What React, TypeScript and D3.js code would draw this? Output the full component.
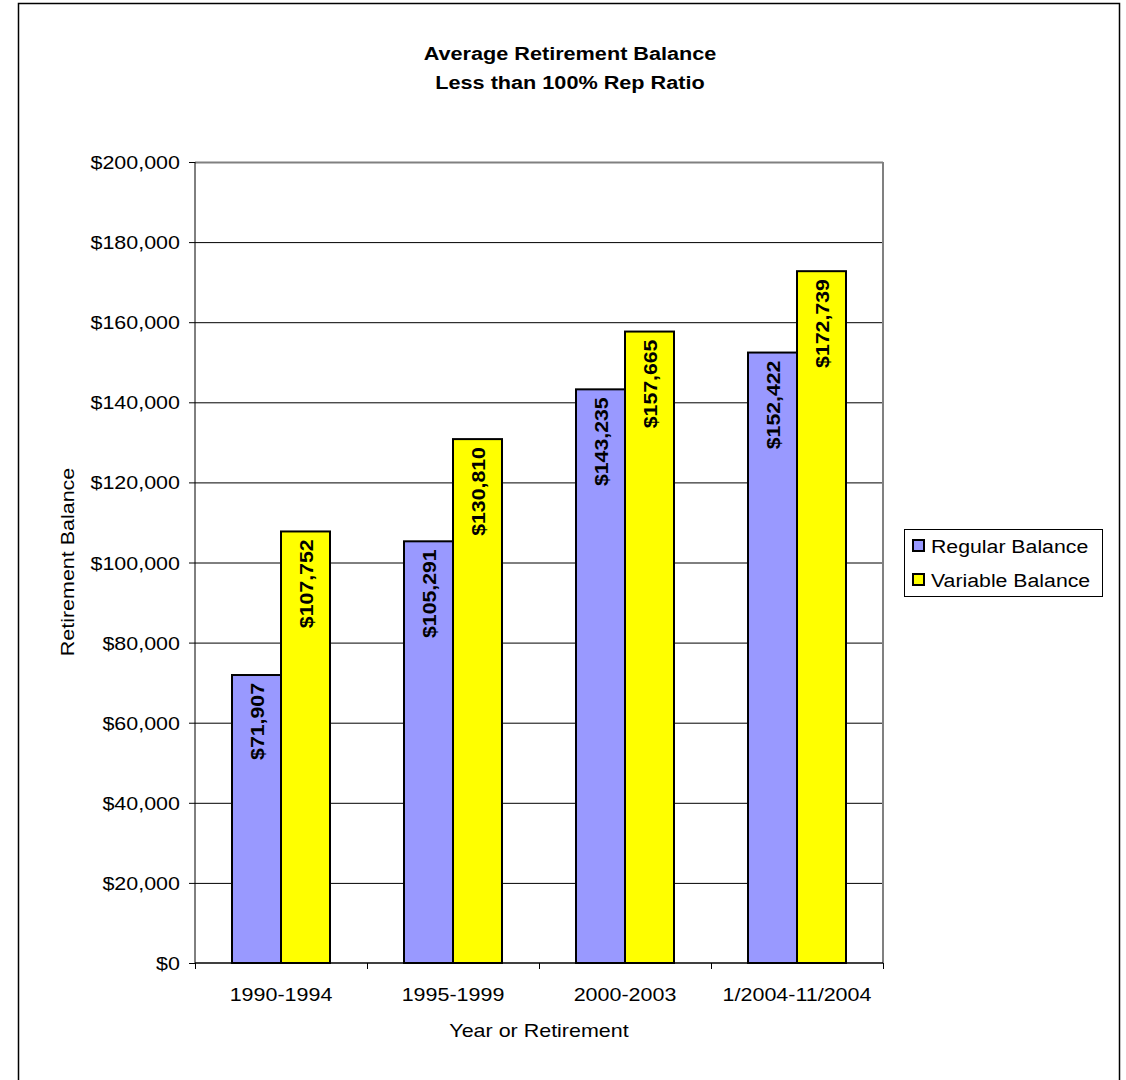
import React from "react";
import * as d3 from "d3";

const categories = ["1990-1994", "1995-1999", "2000-2003", "1/2004-11/2004"];
const regularBalance = [71907, 105291, 143235, 152422];
const variableBalance = [107752, 130810, 157665, 172739];
const seriesNames = ["Regular Balance", "Variable Balance"];
const seriesColors = ["#9999ff", "#ffff00"];
const yTicks = [0, 20000, 40000, 60000, 80000, 100000, 120000, 140000, 160000, 180000, 200000];
const titleLines = ["Average Retirement Balance", "Less than 100% Rep Ratio"];

function T(props: { x: number; y: number; sx: number; rot?: number; anchor?: string; size: number; bold?: boolean; children: any }) {
  const { x, y, sx, rot, anchor, size, bold, children } = props;
  return (
    <text
      transform={`translate(${x},${y})${rot ? ` rotate(${rot})` : ""} scale(${sx},1)`}
      textAnchor={anchor || "start"}
      fontSize={size}
      fontWeight={bold ? "bold" : "normal"}
    >{children}</text>
  );
}

export default function App() {
  const W = 1126, H = 1080;
  const left = 195, right = 883, top = 162, bottom = 963;
  const x = d3.scaleBand<string>().domain(categories).range([left, right]);
  const y = d3.scaleLinear().domain([0, 200000]).range([bottom, top]);
  const fmt = (v: number) => "$" + d3.format(",")(v);
  const barW = 49;
  const series = [regularBalance, variableBalance];
  const font = "Arial, 'Liberation Sans', sans-serif";
  const FS = 19;
  const SX = 1.13;

  return (
    <svg width={W} height={H} style={{ position: "absolute", left: 0, top: 0 }} fontFamily={font}>
      <rect x={0} y={0} width={W} height={H} fill="#fff" />
      <rect x={18.5} y={3.5} width={1101} height={1090} fill="none" stroke="#000" strokeWidth={1.5} />
      {titleLines.map((t, i) => (
        <T key={i} x={570} y={60 + i * 29} sx={1.14} anchor="middle" bold size={19}>{t}</T>
      ))}
      {yTicks.slice(1, -1).map((t) => (
        <line key={t} x1={left} x2={right} y1={y(t) + 0.5} y2={y(t) + 0.5} stroke="#000" strokeWidth={1} />
      ))}
      <line x1={left} x2={right} y1={top + 0.5} y2={top + 0.5} stroke="#808080" strokeWidth={2} />
      <line x1={right} x2={right} y1={top} y2={bottom} stroke="#808080" strokeWidth={2} />
      {categories.map((c, i) => {
        const cx = (x(c) as number) + x.bandwidth() / 2;
        return series.map((s, j) => {
          const bx = cx - barW + j * barW;
          const by = y(s[i]);
          return (
            <g key={c + j}>
              <rect x={bx} y={by} width={barW} height={bottom - by} fill={seriesColors[j]} stroke="#000" strokeWidth={2} />
              <T x={bx + barW / 2 + 7} y={by + 8} rot={-90} sx={1.12} anchor="end" bold size={FS}>{fmt(s[i])}</T>
            </g>
          );
        });
      })}
      <line x1={left} x2={left} y1={top} y2={bottom} stroke="#000" strokeWidth={1} />
      <line x1={left} x2={right} y1={bottom} y2={bottom} stroke="#000" strokeWidth={1.5} />
      {yTicks.map((t) => (
        <g key={t}>
          <line x1={left - 6} x2={left} y1={y(t) + 0.5} y2={y(t) + 0.5} stroke="#000" />
          <T x={180} y={y(t) + 7} sx={SX} anchor="end" size={FS}>{fmt(t)}</T>
        </g>
      ))}
      {[...categories.map((c) => x(c) as number), right].map((xv, i) => (
        <line key={i} x1={xv + 0.5} x2={xv + 0.5} y1={bottom} y2={bottom + 6} stroke="#000" />
      ))}
      {categories.map((c) => (
        <T key={c} x={(x(c) as number) + x.bandwidth() / 2} y={1001} sx={SX} anchor="middle" size={FS}>{c}</T>
      ))}
      <T x={539} y={1037} sx={SX} anchor="middle" size={FS}>Year or Retirement</T>
      <T x={74} y={562} rot={-90} sx={SX} anchor="middle" size={FS}>Retirement Balance</T>
      <rect x={904.5} y={529.5} width={198} height={67} fill="#fff" stroke="#000" strokeWidth={1} />
      {seriesNames.map((n, i) => (
        <g key={n}>
          <rect x={913} y={540 + i * 34} width={11} height={11} fill={seriesColors[i]} stroke="#000" strokeWidth={2} />
          <T x={931} y={553 + i * 34} sx={1.12} size={FS}>{n}</T>
        </g>
      ))}
    </svg>
  );
}
